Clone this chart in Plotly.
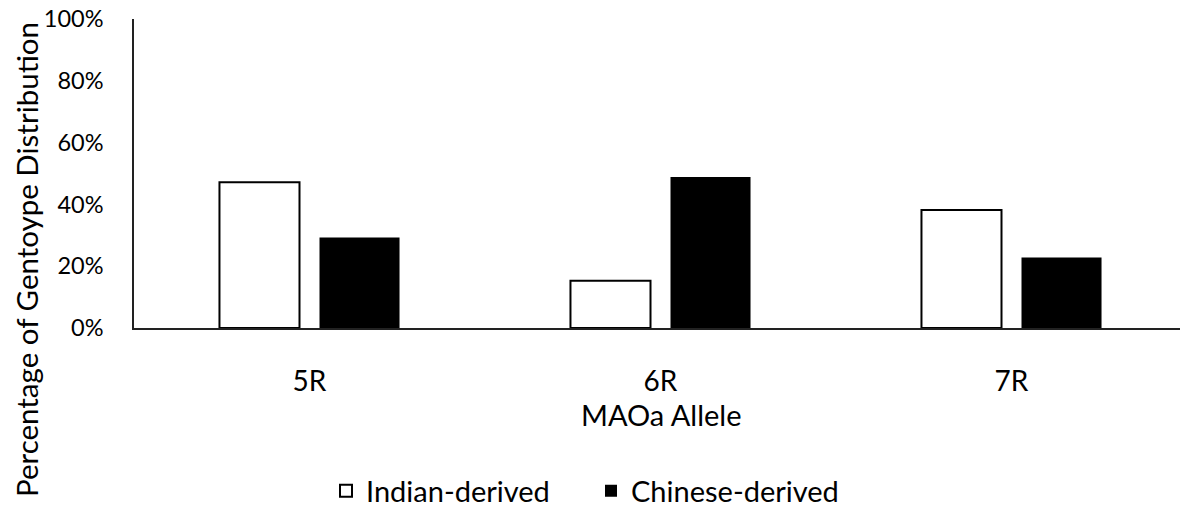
import plotly.graph_objects as go

categories = ["5R", "6R", "7R"]
indian = [47.2, 15.3, 38.2]
chinese = [29.3, 48.9, 22.8]
y_ticks = [0, 20, 40, 60, 80, 100]
y_tick_labels = ["0%", "20%", "40%", "60%", "80%", "100%"]

FONT = "Lato"
W, H = 1180, 510
L, R, T, B = 134, 0, 19, 182
pw = W - L - R
ph = H - T - B

fig = go.Figure()
fig.add_trace(go.Bar(
    x=categories, y=indian, name="Indian-derived",
    marker=dict(color="white", line=dict(color="black", width=2)),
))
fig.add_trace(go.Bar(
    x=categories, y=chinese, name="Chinese-derived",
    marker=dict(color="black", line=dict(color="black", width=0)),
))

unit = 351.0
fig.update_layout(
    width=W, height=H,
    margin=dict(l=L, r=R, t=T, b=B, autoexpand=False),
    paper_bgcolor="white", plot_bgcolor="white",
    barmode="group", bargap=0.43, bargroupgap=0.2,
    font=dict(family=FONT, color="black", size=20),
    showlegend=True,
    legend=dict(orientation="h", x=(326 - L) / pw, y=(T + ph - 491) / ph,
                xanchor="left", yanchor="middle",
                font=dict(size=29, family=FONT), itemsizing="constant",
                traceorder="normal", itemwidth=30, tracegroupgap=0,
                entrywidth=220, entrywidthmode="pixels"),
    xaxis=dict(
        type="category", range=[-0.5, -0.5 + pw / unit], automargin=False,
        showline=True, linecolor="#222", linewidth=1.5,
        showgrid=False, zeroline=False, ticks="",
        tickfont=dict(size=28, family=FONT), ticklabelstandoff=28,
    ),
    yaxis=dict(
        range=[0, 100], tickvals=y_ticks, ticktext=y_tick_labels, automargin=False,
        showline=True, linecolor="#222", linewidth=1.5,
        showgrid=False, zeroline=False, ticks="",
        tickfont=dict(size=23.5, family=FONT), ticklabelstandoff=24,
    ),
    annotations=[
        dict(text="MAOa Allele", xref="paper", yref="paper",
             x=(661 - L) / pw, y=(T + ph - 415) / ph, xanchor="center", yanchor="middle",
             showarrow=False, font=dict(size=29, family=FONT)),
        dict(text="Percentage of Gentoype Distribution", xref="paper", yref="paper",
             x=(26 - L) / pw, y=(T + ph - 260) / ph, xanchor="center", yanchor="middle",
             textangle=-90, showarrow=False, font=dict(size=29.5, family=FONT)),
    ],
)

fig.write_html(
    "out.html",
    config={"displayModeBar": False},
    post_script="document.body.style.margin='0';document.body.style.overflow='hidden';"
                "document.documentElement.style.overflow='hidden';",
)
